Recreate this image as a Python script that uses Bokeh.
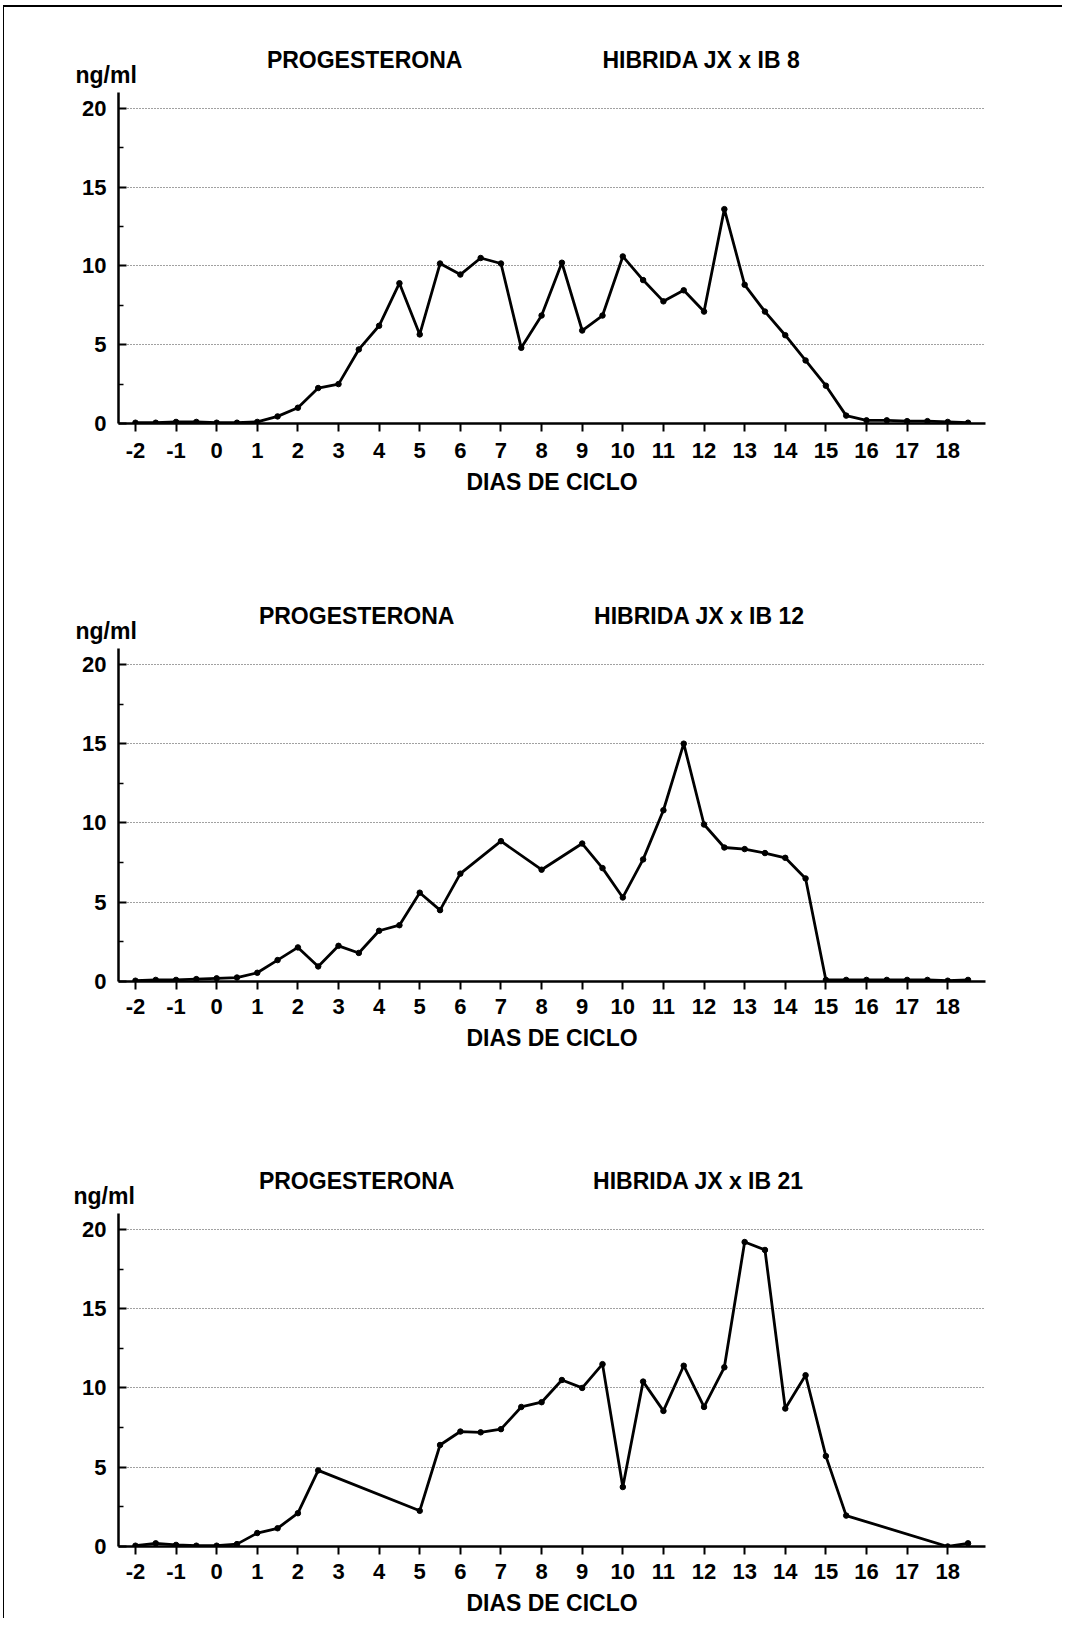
from bokeh.plotting import figure
from bokeh.layouts import column
from bokeh.models import FixedTicker, Range1d, LinearAxis, Title
from bokeh.embed import file_html
from bokeh.resources import INLINE

# ---------------- data ----------------
x_ticks = [-2, -1, 0, 1, 2, 3, 4, 5, 6, 7, 8, 9, 10, 11, 12, 13, 14, 15, 16, 17, 18]
x_tick_text = {-2: "-2", -1: "-1"}
y_ticks = [0, 5, 10, 15, 20]
y_minor = [2.5, 7.5, 12.5, 17.5]

title_left = "PROGESTERONA"
x_title = "DIAS DE CICLO"
y_unit = "ng/ml"

# Hibrida JX x IB 8
ib8_name = "HIBRIDA JX x IB 8"
ib8_days = [-2, -1.5, -1, -0.5, 0, 0.5, 1, 1.5, 2, 2.5, 3, 3.5, 4, 4.5, 5, 5.5, 6, 6.5, 7, 7.5,
            8, 8.5, 9, 9.5, 10, 10.5, 11, 11.5, 12, 12.5, 13, 13.5, 14, 14.5, 15, 15.5, 16, 16.5,
            17, 17.5, 18, 18.5]
ib8_ng = [0.05, 0.05, 0.1, 0.1, 0.05, 0.05, 0.1, 0.45, 1.0, 2.25, 2.5, 4.7, 6.2, 8.9, 5.65, 10.15,
          9.45, 10.5, 10.15, 4.8, 6.85, 10.2, 5.9, 6.85, 10.6, 9.1, 7.75, 8.45, 7.1, 13.6, 8.8, 7.1,
          5.6, 4.0, 2.4, 0.5, 0.2, 0.2, 0.15, 0.15, 0.1, 0.05]

# Hibrida JX x IB 12
ib12_name = "HIBRIDA JX x IB 12"
ib12_days = [-2, -1.5, -1, -0.5, 0, 0.5, 1, 1.5, 2, 2.5, 3, 3.5, 4, 4.5, 5, 5.5, 6, 7, 8, 9, 9.5,
             10, 10.5, 11, 11.5, 12, 12.5, 13, 13.5, 14, 14.5, 15, 15.5, 16, 16.5, 17, 17.5, 18, 18.5]
ib12_ng = [0.05, 0.1, 0.1, 0.15, 0.2, 0.25, 0.55, 1.35, 2.15, 0.95, 2.25, 1.8, 3.2, 3.55, 5.6, 4.5,
           6.8, 8.85, 7.05, 8.7, 7.15, 5.3, 7.7, 10.8, 15.0, 9.9, 8.45, 8.35, 8.1, 7.8, 6.5, 0.1,
           0.1, 0.1, 0.1, 0.1, 0.1, 0.05, 0.1]

# Hibrida JX x IB 21
ib21_name = "HIBRIDA JX x IB 21"
ib21_days = [-2, -1.5, -1, -0.5, 0, 0.5, 1, 1.5, 2, 2.5, 5, 5.5, 6, 6.5, 7, 7.5, 8, 8.5, 9, 9.5,
             10, 10.5, 11, 11.5, 12, 12.5, 13, 13.5, 14, 14.5, 15, 15.5, 18, 18.5]
ib21_ng = [0.05, 0.2, 0.1, 0.05, 0.05, 0.15, 0.85, 1.15, 2.1, 4.8, 2.25, 6.4, 7.25, 7.2, 7.4, 8.8,
           9.1, 10.5, 10.0, 11.5, 3.75, 10.4, 8.55, 11.4, 8.8, 11.3, 19.2, 18.7, 8.7, 10.8, 5.7,
           1.95, 0.0, 0.2]

FONT = "Liberation Sans"
FS_TICK = "22px"
FS_TEXT = "23px"
FIG_W = 1058
INK = "black"


def make_panel(days, ng, name, height, top, bottom, left, frame_w, title_pos, unit_offset, tick_standoff):
    right = FIG_W - left - frame_w
    p = figure(width=FIG_W, height=height, output_backend="svg", toolbar_location=None,
               x_range=Range1d(-2.417, 18.93), y_range=Range1d(0, 21),
               min_border_top=top, min_border_bottom=bottom,
               min_border_left=left, min_border_right=right)
    p.outline_line_color = None
    p.background_fill_color = "white"
    p.border_fill_color = "white"
    p.extra_x_ranges = {"px": Range1d(0, frame_w)}

    p.xgrid.grid_line_color = None
    p.ygrid.ticker = FixedTicker(ticks=[5, 10, 15, 20])
    p.ygrid.grid_line_color = "#222222"
    p.ygrid.grid_line_dash = "1 2"
    p.ygrid.grid_line_width = 1
    p.ygrid.grid_line_alpha = 0.85

    xa = p.xaxis[0]
    xa.ticker = FixedTicker(ticks=x_ticks)
    xa.major_label_overrides = x_tick_text
    xa.axis_line_width = 2.5
    xa.axis_line_color = INK
    xa.major_tick_in = 0
    xa.major_tick_out = 8
    xa.major_tick_line_width = 2
    xa.major_tick_line_color = INK
    xa.minor_tick_line_color = None
    xa.major_label_text_font = FONT
    xa.major_label_text_font_style = "bold"
    xa.major_label_text_font_size = FS_TICK
    xa.major_label_text_color = INK
    xa.major_label_standoff = tick_standoff
    xa.axis_label = x_title
    xa.axis_label_text_font = FONT
    xa.axis_label_text_font_style = "bold"
    xa.axis_label_text_font_size = FS_TEXT
    xa.axis_label_text_color = INK
    xa.axis_label_standoff = 8

    ya = p.yaxis[0]
    ya.ticker = FixedTicker(ticks=y_ticks, minor_ticks=y_minor)
    ya.axis_line_width = 2.5
    ya.axis_line_color = INK
    ya.major_tick_in = 8
    ya.major_tick_out = 0
    ya.major_tick_line_width = 2
    ya.major_tick_line_color = INK
    ya.minor_tick_in = 5
    ya.minor_tick_out = 0
    ya.minor_tick_line_width = 1.5
    ya.minor_tick_line_color = INK
    ya.major_label_text_font = FONT
    ya.major_label_text_font_style = "bold"
    ya.major_label_text_font_size = FS_TICK
    ya.major_label_text_color = INK
    ya.major_label_standoff = 12

    p.line(days, ng, line_color=INK, line_width=2.8)
    p.scatter(days, ng, size=5.5, fill_color=INK, line_color=INK)

    # unit text just above the y axis (closest row above the frame)
    p.add_layout(Title(text=y_unit, align="left", offset=unit_offset, standoff=10,
                       text_font=FONT, text_font_style="bold", text_font_size=FS_TEXT,
                       text_color=INK), "above")
    # header texts on an unlabeled top axis in pixel units of the frame
    top_axis = LinearAxis(x_range_name="px", ticker=FixedTicker(ticks=title_pos),
                          major_label_overrides={title_pos[0]: title_left, title_pos[1]: name},
                          axis_line_color=None, major_tick_line_color=None,
                          minor_tick_line_color=None, major_tick_in=0, major_tick_out=0,
                          major_label_standoff=-18,
                          major_label_text_font=FONT, major_label_text_font_style="bold",
                          major_label_text_font_size=FS_TEXT, major_label_text_color=INK)
    p.add_layout(top_axis, "above")
    return p


p1 = make_panel(ib8_days, ib8_ng, ib8_name, 541, 85, 125, 111, 870, [247, 585], -43, 11)
p2 = make_panel(ib12_days, ib12_ng, ib12_name, 540, 100, 107, 112, 870, [239, 583], -43, 9)
p3 = make_panel(ib21_days, ib21_ng, ib21_name, 530, 125, 72, 114, 870, [239, 582], -45, 9)

layout = column(p1, p2, p3, spacing=0, margin=(5, 0, 0, 3),
                styles={"border-top": "2px solid black", "border-left": "1px solid black"})

open("out.html", "w").write(file_html(layout, INLINE))
